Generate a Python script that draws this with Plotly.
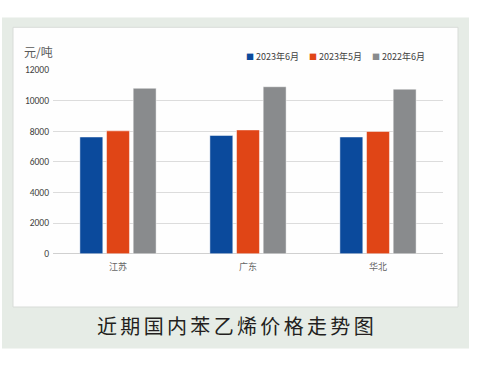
import plotly.graph_objects as go

categories = ["江苏", "广东", "华北"]
series_names = ["2023年6月", "2023年5月", "2022年6月"]
jun_2023 = [7620, 7720, 7620]
may_2023 = [8020, 8080, 7980]
jun_2022 = [10800, 10900, 10740]
series_values = [jun_2023, may_2023, jun_2022]
colors = ["#0b4a9c", "#e04516", "#898b8d"]
y_ticks = [0, 2000, 4000, 6000, 8000, 10000, 12000]
y_tick_labels = [str(v) for v in y_ticks]

W, H = 480, 373
def px(x):
    return x / W
def py(y):
    return (H - y) / H

fig = go.Figure()
for name, vals, c in zip(series_names, series_values, colors):
    fig.add_trace(go.Bar(x=categories, y=vals, name=name,
                         marker=dict(color=c, line=dict(width=0.8, color="rgba(255,255,255,0.6)"))))

font_cn = "Microsoft YaHei, Noto Sans CJK SC, sans-serif"

shapes = [
    dict(type="rect", xref="paper", yref="paper", x0=px(2), x1=px(469), y0=py(354), y1=py(12),
         fillcolor="#e6ece6", line=dict(width=0), layer="below"),
    dict(type="rect", xref="paper", yref="paper", x0=px(13), x1=px(458), y0=py(311), y1=py(22),
         fillcolor="#fefefe", line=dict(width=1, color="#d8dcd8"), layer="below"),
]

annotations = [
    dict(text="元/吨", xref="paper", yref="paper", x=px(22), y=py(47), xanchor="left", yanchor="middle",
         showarrow=False, font=dict(size=12, color="#595959", family=font_cn)),
    dict(text="近\u2006期\u2006国\u2006内\u2006苯\u2006乙\u2006烯\u2006价\u2006格\u2006走\u2006势\u2006图",
         xref="paper", yref="paper", x=px(235), y=py(330), xanchor="center", yanchor="middle",
         showarrow=False, font=dict(size=20, color="#231f20", family=font_cn)),
]
legend_x = [244, 307, 370]
for lx, name, c in zip(legend_x, series_names, colors):
    annotations.append(dict(
        text=f'<span style="color:{c};font-size:8px">■</span> {name}', xref="paper", yref="paper",
        x=px(lx), y=py(52), xanchor="left", yanchor="middle", showarrow=False,
        font=dict(size=9, color="#404040", family=font_cn)))

fig.update_layout(
    width=W, height=H,
    margin=dict(l=0, r=0, t=0, b=0),
    paper_bgcolor="white",
    plot_bgcolor="rgba(0,0,0,0)",
    showlegend=False,
    barmode="group",
    bargap=0.385,
    bargroupgap=0.14,
    shapes=shapes,
    annotations=annotations,
    xaxis=dict(domain=[px(53), px(443)], showline=False, showgrid=False, ticks="",
               ticklabelstandoff=6,
               tickfont=dict(size=9, color="#666666", family=font_cn)),
    yaxis=dict(domain=[py(256), py(66)], range=[0, 12000], tickvals=y_ticks, ticktext=y_tick_labels,
               showgrid=True, gridcolor="#dcdcdc", gridwidth=1,
               zeroline=True, zerolinecolor="#d0d0d0", zerolinewidth=1,
               showline=False, ticks="", ticklabelstandoff=3,
               tickfont=dict(size=9.5, color="#404040", family="Calibri, Carlito, Liberation Sans, sans-serif")),
)

fig.write_html("out.html", config={"displayModeBar": False},
               post_script="document.body.style.margin='0';document.body.style.overflow='hidden';")
